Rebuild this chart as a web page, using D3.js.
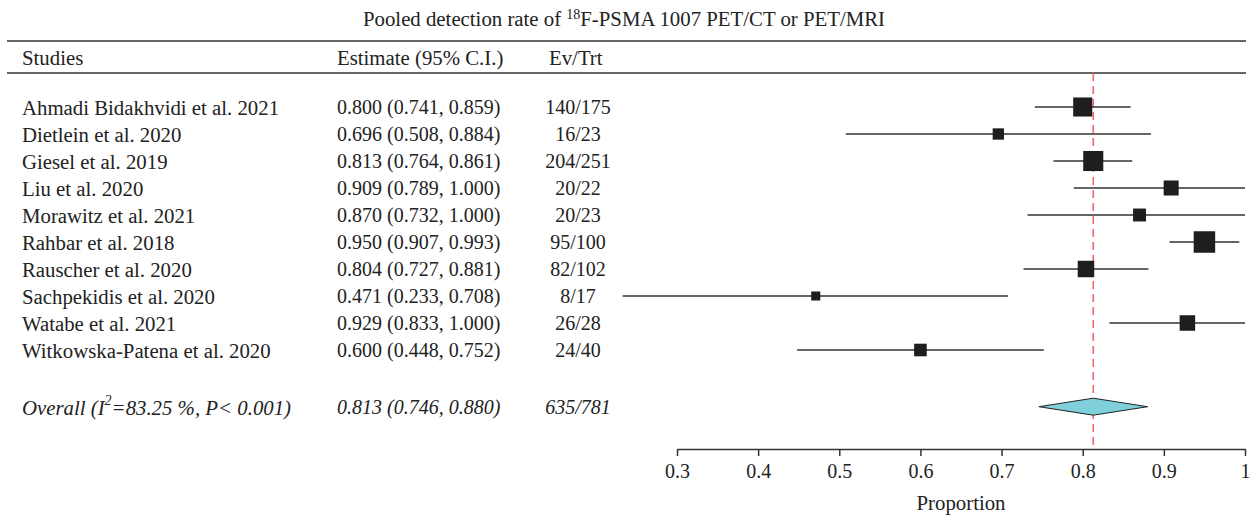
<!DOCTYPE html>
<html>
<head>
<meta charset="utf-8">
<script src="https://cdn.jsdelivr.net/npm/d3@7"></script>
<style>
  body { margin: 0; background: #fff; }
  text { font-family: "Liberation Serif", "DejaVu Serif", serif; fill: #222; }
</style>
</head>
<body>
<script>
// study rows
let studies = [
  "Ahmadi Bidakhvidi et al. 2021", "Dietlein et al. 2020", "Giesel et al. 2019",
  "Liu et al. 2020", "Morawitz et al. 2021", "Rahbar et al. 2018",
  "Rauscher et al. 2020", "Sachpekidis et al. 2020", "Watabe et al. 2021",
  "Witkowska-Patena et al. 2020"
];
let estimates = [0.800, 0.696, 0.813, 0.909, 0.870, 0.950, 0.804, 0.471, 0.929, 0.600];
let lower = [0.741, 0.508, 0.764, 0.789, 0.732, 0.907, 0.727, 0.233, 0.833, 0.448];
let upper = [0.859, 0.884, 0.861, 1.000, 1.000, 0.993, 0.881, 0.708, 1.000, 0.752];
let events = [140, 16, 204, 20, 20, 95, 82, 8, 26, 24];
let totals = [175, 23, 251, 22, 23, 100, 102, 17, 28, 40];
// relative weights
let weights = [11.8, 7.0, 12.4, 9.3, 8.0, 13.3, 10.2, 5.6, 9.6, 7.8];

let pooled = 0.813;
let pooledCI = [0.746, 0.880];
let pooledEvents = 635, pooledTotal = 781;
let i2 = "83.25 %", pText = "P< 0.001";

let tickVals = [0.3, 0.4, 0.5, 0.6, 0.7, 0.8, 0.9, 1.0];

let svg = d3.select('body')
  .append('svg')
  .attr("width", 1253)
  .attr("height", 515);

let fmt = d3.format(".3f");
let fontSize = 20;
let nameSize = 20.8;

let x = d3.scaleLinear().domain([0.3, 1]).range([677, 1245]);
let y = d3.scalePoint().domain(d3.range(studies.length)).range([107, 350]);
let step = y.step();
let overallY = y(studies.length - 1) + step * 2.1;
let axisY = 449;
let boxSize = d3.scaleLinear().domain([0, d3.max(weights)]).range([0, 21.5]);

let colStudy = 22, colEst = 337, colEv = 578;

// title
let title = svg.append("text")
  .attr("x", 624).attr("y", 26)
  .attr("text-anchor", "middle")
  .style("font-size", nameSize + "px");
title.append("tspan").text("Pooled detection rate of ");
title.append("tspan").attr("dy", -7).style("font-size", "14px").text("18");
title.append("tspan").attr("dy", 7).text("F-PSMA 1007 PET/CT or PET/MRI");

// header rules
[41, 73].forEach(yy => {
  svg.append("line")
    .attr("x1", 7).attr("x2", 1246)
    .attr("y1", yy).attr("y2", yy)
    .attr("stroke", "#333")
    .attr("stroke-width", 1.5);
});

let header = [["Studies", colStudy], ["Estimate (95% C.I.)", colEst], ["Ev/Trt", 549]];
header.forEach(h => {
  svg.append("text")
    .attr("x", h[1]).attr("y", 57)
    .attr("dominant-baseline", "central")
    .style("font-size", nameSize + "px")
    .text(h[0]);
});

// text columns
studies.forEach((s, i) => {
  svg.append("text")
    .attr("x", colStudy).attr("y", y(i))
    .attr("dominant-baseline", "central")
    .style("font-size", nameSize + "px")
    .text(s);
  svg.append("text")
    .attr("x", colEst).attr("y", y(i))
    .attr("dominant-baseline", "central")
    .style("font-size", fontSize + "px")
    .text(`${fmt(estimates[i])} (${fmt(lower[i])}, ${fmt(upper[i])})`);
  svg.append("text")
    .attr("x", colEv).attr("y", y(i))
    .attr("text-anchor", "middle")
    .attr("dominant-baseline", "central")
    .style("font-size", fontSize + "px")
    .text(events[i] + "/" + totals[i]);
});

// overall row text (italic)
let ov = svg.append("text")
  .attr("x", colStudy).attr("y", overallY)
  .attr("dominant-baseline", "central")
  .style("font-size", nameSize + "px")
  .style("font-style", "italic");
ov.append("tspan").text("Overall (I");
ov.append("tspan").attr("dy", -7).style("font-size", "14px").text("2");
ov.append("tspan").attr("dy", 7).text(`=${i2}, ${pText})`);

svg.append("text")
  .attr("x", colEst).attr("y", overallY)
  .attr("dominant-baseline", "central")
  .style("font-size", fontSize + "px")
  .style("font-style", "italic")
  .text(`${fmt(pooled)} (${fmt(pooledCI[0])}, ${fmt(pooledCI[1])})`);

svg.append("text")
  .attr("x", colEv).attr("y", overallY)
  .attr("text-anchor", "middle")
  .attr("dominant-baseline", "central")
  .style("font-size", fontSize + "px")
  .style("font-style", "italic")
  .text(pooledEvents + "/" + pooledTotal);

// reference line at pooled estimate
svg.append("line")
  .attr("x1", x(pooled)).attr("x2", x(pooled))
  .attr("y1", 73).attr("y2", axisY)
  .attr("stroke", "#ec6b6e")
  .attr("stroke-width", 1.6)
  .attr("stroke-dasharray", "8,5");

// CIs and boxes
studies.forEach((s, i) => {
  svg.append("line")
    .attr("x1", x(lower[i])).attr("x2", x(upper[i]))
    .attr("y1", y(i)).attr("y2", y(i))
    .attr("stroke", "#333")
    .attr("stroke-width", 1.5);
  let b = boxSize(weights[i]);
  svg.append("rect")
    .attr("x", x(estimates[i]) - b / 2)
    .attr("y", y(i) - b / 2)
    .attr("width", b).attr("height", b)
    .attr("fill", "#1e1e1e");
});

// pooled diamond
let dh = 8.5;
let diamond = [
  [x(pooledCI[0]), overallY], [x(pooled), overallY - dh],
  [x(pooledCI[1]), overallY], [x(pooled), overallY + dh]
];
svg.append("path")
  .attr("d", d3.line()(diamond) + "Z")
  .attr("fill", "#80d0dc")
  .attr("stroke", "#222")
  .attr("stroke-width", 1);

// axis
let axis = svg.append("g")
  .attr("transform", `translate(0,${axisY})`)
  .call(d3.axisBottom(x)
    .tickValues(tickVals)
    .tickSize(7)
    .tickSizeOuter(0)
    .tickPadding(8)
    .tickFormat(d => d === 1 ? "1" : d3.format(".1f")(d)));
axis.select(".domain").attr("stroke", "#333").attr("stroke-width", 1.5);
axis.selectAll(".tick line").attr("stroke", "#333").attr("stroke-width", 1.5);
axis.selectAll(".tick text")
  .style("font-family", '"Liberation Serif", serif')
  .style("font-size", fontSize + "px")
  .attr("fill", "#222");

svg.append("text")
  .attr("x", (x(0.3) + x(1)) / 2).attr("y", 502)
  .attr("text-anchor", "middle")
  .attr("dominant-baseline", "central")
  .style("font-size", nameSize + "px")
  .text("Proportion");
</script>
</body>
</html>
